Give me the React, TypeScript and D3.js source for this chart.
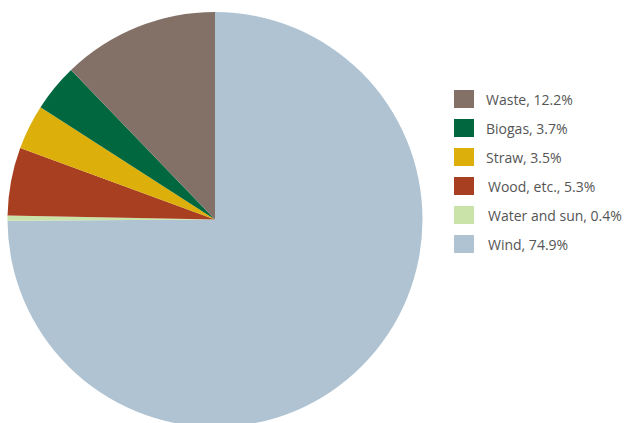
import React from "react";
import * as d3 from "d3";

const categories = ["Wind", "Water and sun", "Wood, etc.", "Straw", "Biogas", "Waste"];
const values = [74.9, 0.4, 5.3, 3.5, 3.7, 12.2];
const labels = ["Wind, 74.9%", "Water and sun, 0.4%", "Wood, etc., 5.3%", "Straw, 3.5%", "Biogas, 3.7%", "Waste, 12.2%"];
const colors = ["#afc3d2", "#cae3a8", "#a83f21", "#dcaf0b", "#00673f", "#837167"];
const legendOrder = ["Waste", "Biogas", "Straw", "Wood, etc.", "Water and sun", "Wind"];

export default function App() {
  const W = 636, H = 423;
  const cx = 215, cy = 219.5, r = 207.5;
  const pie = d3.pie<number>().value((d) => d).sort(null)(values);
  const arc = d3.arc<d3.PieArcDatum<number>>().innerRadius(0).outerRadius(r);
  const ly = d3.scaleBand<string>().domain(legendOrder).range([90, 264]).paddingInner(0);
  return (
    <svg width={W} height={H} style={{ position: "absolute", left: 0, top: 0 }}>
      <g transform={`translate(${cx},${cy})`}>
        {pie.map((p, i) => (
          <path key={i} d={arc(p) || ""} fill={colors[i]} />
        ))}
      </g>
      {legendOrder.map((c) => {
        const i = categories.indexOf(c);
        const y = ly(c)!;
        return (
          <g key={c}>
            <rect x={454} y={y} width={20} height={18} fill={colors[i]} />
            <text x={i <= 2 ? 488 : 486} y={y + 14.5} fontFamily="Open Sans, sans-serif" fontSize={14} fill="#555">
              {labels[i]}
            </text>
          </g>
        );
      })}
    </svg>
  );
}
